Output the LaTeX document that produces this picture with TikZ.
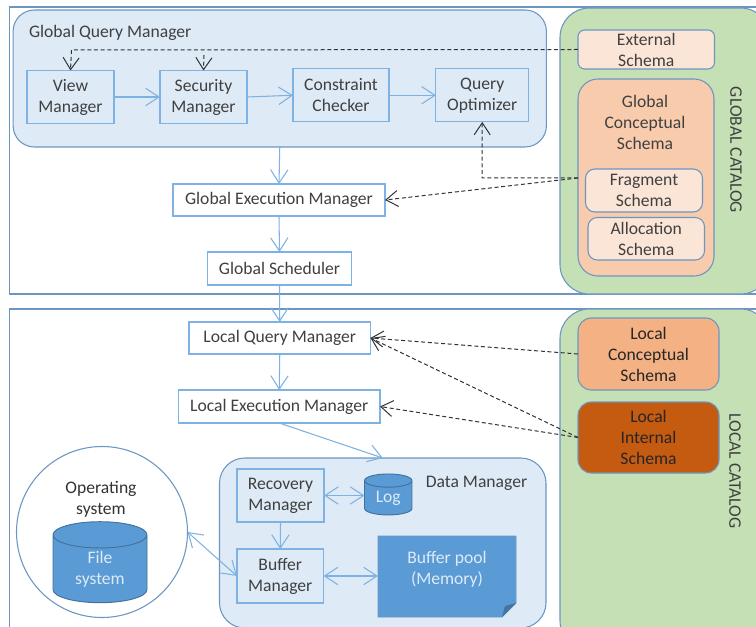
\documentclass[tikz,border=0pt]{standalone}
\usepackage{fontspec}
\setmainfont{Carlito}
\usetikzlibrary{arrows.meta,shapes.geometric}
\definecolor{framecol}{RGB}{108,150,194}
\definecolor{boxline}{RGB}{125,178,226}
\definecolor{paleblue}{RGB}{222,234,246}
\definecolor{midblue}{RGB}{91,155,213}
\definecolor{diskline}{RGB}{65,113,156}
\definecolor{catgreen}{RGB}{197,224,180}
\definecolor{peachpale}{RGB}{251,229,214}
\definecolor{peachmid}{RGB}{248,203,173}
\definecolor{peachdeep}{RGB}{244,177,131}
\definecolor{rust}{RGB}{197,90,17}
\definecolor{txtcol}{RGB}{64,64,64}
\tikzset{
  lbl/.style={font=\fontsize{13.2}{15.75}\selectfont,align=center,text=txtcol,inner sep=0pt,outer sep=0pt},
  boxnode/.style={lbl,draw=boxline,line width=0.8pt},
  whitebox/.style={boxnode,fill=white},
  bluebox/.style={boxnode,fill=paleblue},
  zone/.style={lbl,draw=framecol,line width=0.8pt,rounded corners=#1},
  disk/.style={lbl,cylinder,shape border rotate=90,aspect=0.53,draw=diskline,fill=midblue,text=paleblue,line width=0.7pt},
  flow/.style={draw=boxline,line width=0.8pt,-{Straight Barb[length=10pt,width=13pt]}},
  flowboth/.style={draw=boxline,line width=0.8pt,{Straight Barb[length=10pt,width=13pt]}-{Straight Barb[length=10pt,width=13pt]}},
  dashref/.style={draw=black!80,line width=0.75pt,dash pattern={on 3pt off 2pt}},
  dasharrow/.style={dashref,-{Straight Barb[length=9pt,width=12pt]}}
}
\begin{document}
\begin{tikzpicture}[x=0.75pt,y=0.75pt,yscale=-1,xscale=1]
\clip (0,0) rectangle (756,627);

%Frames
\draw [draw=framecol,line width=0.8pt] (9.5,7) rectangle (790,294);
\draw [draw=framecol,line width=0.8pt] (9.5,309) rectangle (790,660);

%Catalogs
\node (globalcat) [zone=22pt,fill=catgreen,minimum width=157.5pt,minimum height=214.5pt] at (665,151) {};
\node (localcat) [zone=22pt,fill=catgreen,minimum width=157.5pt,minimum height=255.75pt] at (665,479.5) {};
\node (globaltitle) [lbl,rotate=-90] at (736,150) {GLOBAL CATALOG};
\node (localtitle) [lbl,rotate=-90] at (735,471) {LOCAL CATALOG};

%Global Query Manager
\node (gqm) [zone=16pt,fill=paleblue,minimum width=400pt,minimum height=102.75pt] at (279.75,78.5) {};
\node (gqmtitle) [lbl,anchor=west] at (29,33) {Global Query Manager};
\node (viewmgr) [bluebox,minimum width=65.25pt,minimum height=39.75pt] at (70.5,97) {View\\Manager};
\node (secmgr) [bluebox,minimum width=65.25pt,minimum height=39.75pt] at (203.5,97) {Security\\Manager};
\node (checker) [bluebox,minimum width=72pt,minimum height=40pt] at (341,95.25) {Constraint\\Checker};
\node (optimizer) [bluebox,minimum width=69.5pt,minimum height=40pt] at (482.25,95.25) {Query\\Optimizer};

%Global schemas
\node (extschema) [zone=5pt,fill=peachpale,minimum width=102.4pt,minimum height=29.25pt] at (646.25,49.5) {External\\Schema};
\node (gcs) [zone=15pt,fill=peachmid,minimum width=102pt,minimum height=147.75pt] at (646,177.5) {};
\node (gcstitle) [lbl] at (645,122) {Global\\Conceptual\\Schema};
\node (fragschema) [zone=7pt,fill=peachpale,minimum width=87.75pt,minimum height=32.25pt] at (644,190.5) {Fragment\\Schema};
\node (allocschema) [zone=7pt,fill=peachpale,minimum width=87.4pt,minimum height=31.9pt] at (646.25,238.75) {Allocation\\Schema};

%Global path
\node (gem) [whitebox,minimum width=159pt,minimum height=24pt] at (279,200) {Global Execution Manager};
\node (gsched) [whitebox,minimum width=108pt,minimum height=24.75pt] at (279.5,268.5) {Global Scheduler};

%Local path
\node (lqm) [whitebox,minimum width=136.1pt,minimum height=24pt] at (279.75,338) {Local Query Manager};
\node (lem) [whitebox,minimum width=151.1pt,minimum height=24.75pt] at (279.25,406.5) {Local Execution Manager};

%Local schemas
\node (lcs) [zone=10pt,fill=peachdeep,minimum width=105.75pt,minimum height=54pt] at (648.5,354) {\textcolor{black!85}{Local}\\\textcolor{black!85}{Conceptual}\\\textcolor{black!85}{Schema}};
\node (lis) [zone=10pt,fill=rust,minimum width=105.75pt,minimum height=53.25pt] at (648.5,437.5) {\textcolor{black!85}{Local}\\\textcolor{black!85}{Internal}\\\textcolor{black!85}{Schema}};

%Data Manager
\node (dmgr) [zone=19pt,fill=paleblue,minimum width=244.9pt,minimum height=127.5pt] at (382.75,543) {};
\node (dmgrtitle) [lbl] at (476.5,483) {Data Manager};
\node (recmgr) [bluebox,minimum width=65.25pt,minimum height=39.75pt] at (280.5,495.5) {Recovery\\Manager};
\node (bufmgr) [bluebox,minimum width=64.9pt,minimum height=40.5pt] at (280.25,576) {Buffer\\Manager};
\node (logdb) [disk,minimum width=35.6pt,minimum height=30.75pt] at (388.25,498) {Log};

%Buffer pool
\draw [draw=framecol,fill=midblue,line width=0.7pt] (378,536) -- (516,536) -- (516,603) -- (502,617) -- (378,617) -- cycle;
\fill [midblue!75!black] (516,603) -- (505,606) -- (502,617) -- cycle;
\node (bufpool) [lbl,text=paleblue,minimum width=103.5pt,minimum height=60.75pt] at (447,569) {Buffer pool\\(Memory)};

%Operating system
\node (oscircle) [circle,draw=framecol,fill=white,line width=0.8pt,minimum size=128.25pt,inner sep=0pt,outer sep=0pt] at (102,532) {};
\node (ostitle) [lbl,text=black!80] at (101,499.5) {Operating\\system};
\node (filesys) [disk,minimum width=70.5pt,minimum height=60.75pt] at (100,569) {File\\system};

%Free ends of the dashed lines
\coordinate (viewturn) at (71.5,50);
\coordinate (secstub) at (204,55);
\coordinate (fragout) at (578,178);
\coordinate (optturn) at (482,178);

%Straight Lines
\draw [flow] (viewmgr.east) -- (secmgr.west);
\draw [flow] (secmgr.east) -- (checker.west);
\draw [flow] (checker.east) -- (optimizer.west);
\draw [flow] (gqm.south) -- (gem.north);
\draw [flow] (gem.south) -- (gsched.north);
\draw [flow] (gsched.south) -- (lqm.north);
\draw [flow] (lqm.south) -- (lem.north);
\draw [flow] (lem.south) -- (dmgr.north);
\draw [flow] (recmgr.south) -- (bufmgr.north);
\draw [flowboth] (recmgr.east) -- (logdb.west |- recmgr.east);
\draw [flowboth] (bufmgr.east) -- (378,576);
\draw [flowboth] (oscircle.east) -- (bufmgr.west);

%Dashed Lines
\draw [dasharrow] (extschema.west) -- (viewturn) -- (viewmgr.north);
\draw [dasharrow] (secstub) -- (secmgr.north);
\draw [dasharrow] (fragout) -- (optturn) -- (optimizer.south);
\draw [dasharrow] (fragout) -- (gem.east);
\draw [dasharrow] (lcs.west) -- (lqm.east);
\draw [dasharrow] (lis.west) -- (lqm.east);
\draw [dasharrow] (lis.west) -- (lem.east);

\end{tikzpicture}
\end{document}
